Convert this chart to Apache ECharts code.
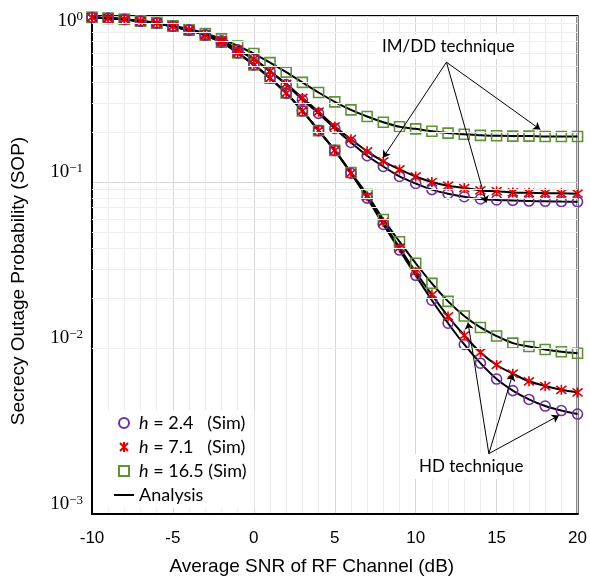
<!DOCTYPE html>
<html><head><meta charset="utf-8">
<script src="https://cdn.jsdelivr.net/npm/echarts@6/dist/echarts.min.js"></script>
<style>html,body{margin:0;padding:0;background:#fff}#c{width:590px;height:581px}</style>
</head><body><div id="c"></div>
<script>
const snr = [-10,-9,-8,-7,-6,-5,-4,-3,-2,-1,0,1,2,3,4,5,6,7,8,9,10,11,12,13,14,15,16,17,18,19,20];

// IM/DD technique
const imdd_h24  = [0.98,0.97,0.955,0.932,0.908,0.868,0.826,0.77,0.71,0.625,0.549,0.463,0.386,0.313,0.259,0.21,0.173,0.144,0.124,0.108,0.098,0.09,0.085,0.0815,0.079,0.078,0.0775,0.0768,0.0765,0.0762,0.076];
const imdd_h71  = [0.98,0.97,0.955,0.932,0.908,0.868,0.826,0.77,0.712,0.628,0.552,0.466,0.39,0.321,0.265,0.216,0.181,0.153,0.133,0.119,0.108,0.1,0.095,0.092,0.089,0.088,0.0865,0.086,0.0857,0.0855,0.085];
const imdd_h165 = [0.982,0.97,0.956,0.935,0.912,0.874,0.835,0.785,0.728,0.66,0.594,0.524,0.459,0.398,0.346,0.304,0.272,0.248,0.229,0.215,0.209,0.202,0.197,0.194,0.191,0.19,0.189,0.189,0.188,0.188,0.188];
// HD technique
const hd_h24  = [0.98,0.968,0.953,0.93,0.905,0.865,0.82,0.765,0.695,0.6,0.508,0.422,0.343,0.268,0.204,0.155,0.113,0.08,0.0555,0.0389,0.0274,0.0194,0.0141,0.0105,0.0081,0.0065,0.00554,0.0049,0.00447,0.0042,0.004];
const hd_h71  = [0.98,0.968,0.953,0.93,0.905,0.865,0.82,0.765,0.695,0.6,0.508,0.422,0.343,0.268,0.204,0.155,0.113,0.082,0.0573,0.0402,0.0287,0.0209,0.0155,0.0119,0.0094,0.0079,0.007,0.0063,0.0059,0.0056,0.0054];
const hd_h165 = [0.98,0.968,0.953,0.93,0.905,0.865,0.82,0.765,0.695,0.6,0.508,0.422,0.343,0.268,0.204,0.155,0.114,0.084,0.0595,0.0437,0.0324,0.0245,0.0191,0.0156,0.0133,0.0118,0.0107,0.0102,0.0098,0.0095,0.0093];

const legendNames = ['h = 2.4   (Sim)', 'h = 7.1   (Sim)', 'h = 16.5 (Sim)', 'Analysis'];
const xTickLabels = ['-10','-5','0','5','10','15','20'];
const yTickValues = [0.001, 0.01, 0.1, 1];
const yTickExponents = ['\u22123', '\u22122', '\u22121', '0'];
const yMinor = [];
[0.001, 0.01, 0.1].forEach(d => { for (let k = 2; k <= 9; k++) yMinor.push(+(d * k).toPrecision(3)); });

// annotation arrows in data coordinates: [x0, y0, x1, y1]
const arrows = [
  [11.9, 0.527, 7.98, 0.140],
  [11.9, 0.527, 14.36, 0.075],
  [11.9, 0.527, 17.7, 0.207],
  [14.52, 0.00231, 13.23, 0.01426],
  [14.52, 0.00231, 16.0, 0.00698],
  [14.52, 0.00231, 18.85, 0.00392]
];

const PURPLE = '#7030A0', RED = '#E00000', GREEN = '#5E9138';
const SQUARE = 'path://M0,0L10,0L10,10L0,10Z';
const STAR = 'path://M1,1L9,9M9,1L1,9M5,0L5,10';

const pairs = arr => snr.map((x, i) => [x, arr[i]]);

const series = [];
series.push({
  type: 'line', data: [], silent: true, z: 1,
  markLine: {
    silent: true, animation: false, symbol: ['none', 'none'],
    label: { show: false },
    emphasis: { disabled: true },
    lineStyle: { color: '#eeeeee', width: 1, type: 'solid' },
    data: yMinor.map(v => ({ yAxis: v }))
  }
});
series.push({
  type: 'line', data: [], silent: true, z: 4,
  markLine: {
    silent: true, animation: false, symbol: ['none', 'arrow'], symbolSize: 7,
    label: { show: false },
    emphasis: { disabled: true },
    lineStyle: { color: '#000', width: 1, type: 'solid' },
    data: arrows.map(a => [{ coord: [a[0], a[1]] }, { coord: [a[2], a[3]] }])
  }
});
[imdd_h24, imdd_h71, imdd_h165, hd_h24, hd_h71, hd_h165].forEach(arr => {
  series.push({
    name: 'Analysis', type: 'line', data: pairs(arr), symbol: 'none', smooth: 0.3,
    lineStyle: { color: '#000', width: 2 }, itemStyle: { color: '#000' }, z: 2, animation: false
  });
});
const sim = [
  { name: legendNames[2], sets: [imdd_h165, hd_h165], symbol: SQUARE, size: 10, color: GREEN },
  { name: legendNames[0], sets: [imdd_h24, hd_h24], symbol: 'circle', size: 10, color: PURPLE },
  { name: legendNames[1], sets: [imdd_h71, hd_h71], symbol: STAR, size: 10, color: RED }
];
sim.forEach(s => s.sets.forEach(arr => {
  series.push({
    name: s.name, type: 'scatter', data: pairs(arr), symbol: s.symbol, symbolSize: s.size,
    itemStyle: { color: 'rgba(0,0,0,0)', borderColor: s.color, borderWidth: 1.6, opacity: 1 },
    z: 3, animation: false
  });
}));

const chart = echarts.init(document.getElementById('c'));
chart.setOption({
  backgroundColor: '#fff',
  animation: false,
  grid: { left: 92, right: 12, top: 16, bottom: 65, show: true, borderColor: '#000', borderWidth: 2, backgroundColor: 'transparent' },
  xAxis: {
    type: 'value', min: -10, max: 20, interval: 1,
    name: 'Average SNR of RF Channel (dB)', nameLocation: 'middle', nameGap: 43,
    nameTextStyle: { fontFamily: 'Liberation Sans', fontSize: 19, color: '#000', padding: [0, 46, 0, 0] },
    axisLine: { show: true, onZero: false, lineStyle: { color: '#000', width: 2 } },
    axisTick: { show: false },
    axisLabel: {
      fontFamily: 'Liberation Sans', fontSize: 17, color: '#000', margin: 16,
      formatter: v => { const i = xTickLabels.indexOf(String(v)); return i >= 0 ? xTickLabels[i] : ''; }
    },
    splitLine: { show: true, lineStyle: { color: ['#d6d6d6', '#ececec', '#ececec', '#ececec', '#ececec'], width: 1 } }
  },
  yAxis: {
    type: 'log', logBase: 10, min: 0.001, max: 1,
    name: 'Secrecy Outage Probability (SOP)', nameLocation: 'middle', nameGap: 64,
    nameTextStyle: { fontFamily: 'Liberation Sans', fontSize: 19, color: '#000', padding: [0, 32, 0, 0] },
    axisLine: { show: true, onZero: false, lineStyle: { color: '#000', width: 2 } },
    axisTick: { show: false },
    axisLabel: {
      margin: 9, color: '#000',
      formatter: v => {
        const i = yTickValues.findIndex(t => Math.abs(Math.log10(t) - Math.log10(v)) < 1e-6);
        if (i < 0) return '';
        if (yTickValues[i] === 1) return '{bt|10}{st|' + yTickExponents[i] + '}';
        return '{b|10}{s|' + yTickExponents[i] + '}';
      },
      rich: {
        b: { fontFamily: 'Liberation Serif', fontSize: 19, color: '#000', verticalAlign: 'bottom', padding: [0, 0, 20, 0] },
        s: { fontFamily: 'Liberation Serif', fontSize: 13, color: '#000', verticalAlign: 'bottom', padding: [0, 0, 26, 0] },
        bt: { fontFamily: 'Liberation Serif', fontSize: 19, color: '#000', verticalAlign: 'bottom', padding: [15, 0, 4, 0] },
        st: { fontFamily: 'Liberation Serif', fontSize: 13, color: '#000', verticalAlign: 'bottom', padding: [13, 0, 12, 0] }
      }
    },
    splitLine: { show: true, lineStyle: { color: '#d6d6d6', width: 1 } }
  },
  legend: {
    data: [legendNames[0], legendNames[1], legendNames[2],
           { name: legendNames[3], icon: 'path://M0,4L20,4L20,6L0,6Z' }],
    orient: 'vertical', left: 106, top: 410, itemWidth: 20, itemHeight: 10, itemGap: 6,
    backgroundColor: '#fff', padding: [4, 8, 4, 8],
    textStyle: {
      fontFamily: 'Lato', fontSize: 18, color: '#000',
      rich: { i: { fontFamily: 'Lato', fontSize: 18, fontStyle: 'italic', color: '#000' }, n: { fontFamily: 'Lato', fontSize: 18, color: '#000' } }
    },
    formatter: name => name.charAt(0) === 'h' ? '{i|h}{n|' + name.slice(1) + '}' : name
  },
  graphic: [
    { type: 'text', left: 376, top: 34, z: 10,
      style: { text: 'IM/DD technique', fontFamily: 'Lato', fontSize: 17, fill: '#000', backgroundColor: '#fff', padding: [4, 6] } },
    { type: 'text', left: 413, top: 454, z: 10,
      style: { text: 'HD technique', fontFamily: 'Lato', fontSize: 17, fill: '#000', backgroundColor: '#fff', padding: [4, 6] } }
  ],
  series: series
});
</script></body></html>
